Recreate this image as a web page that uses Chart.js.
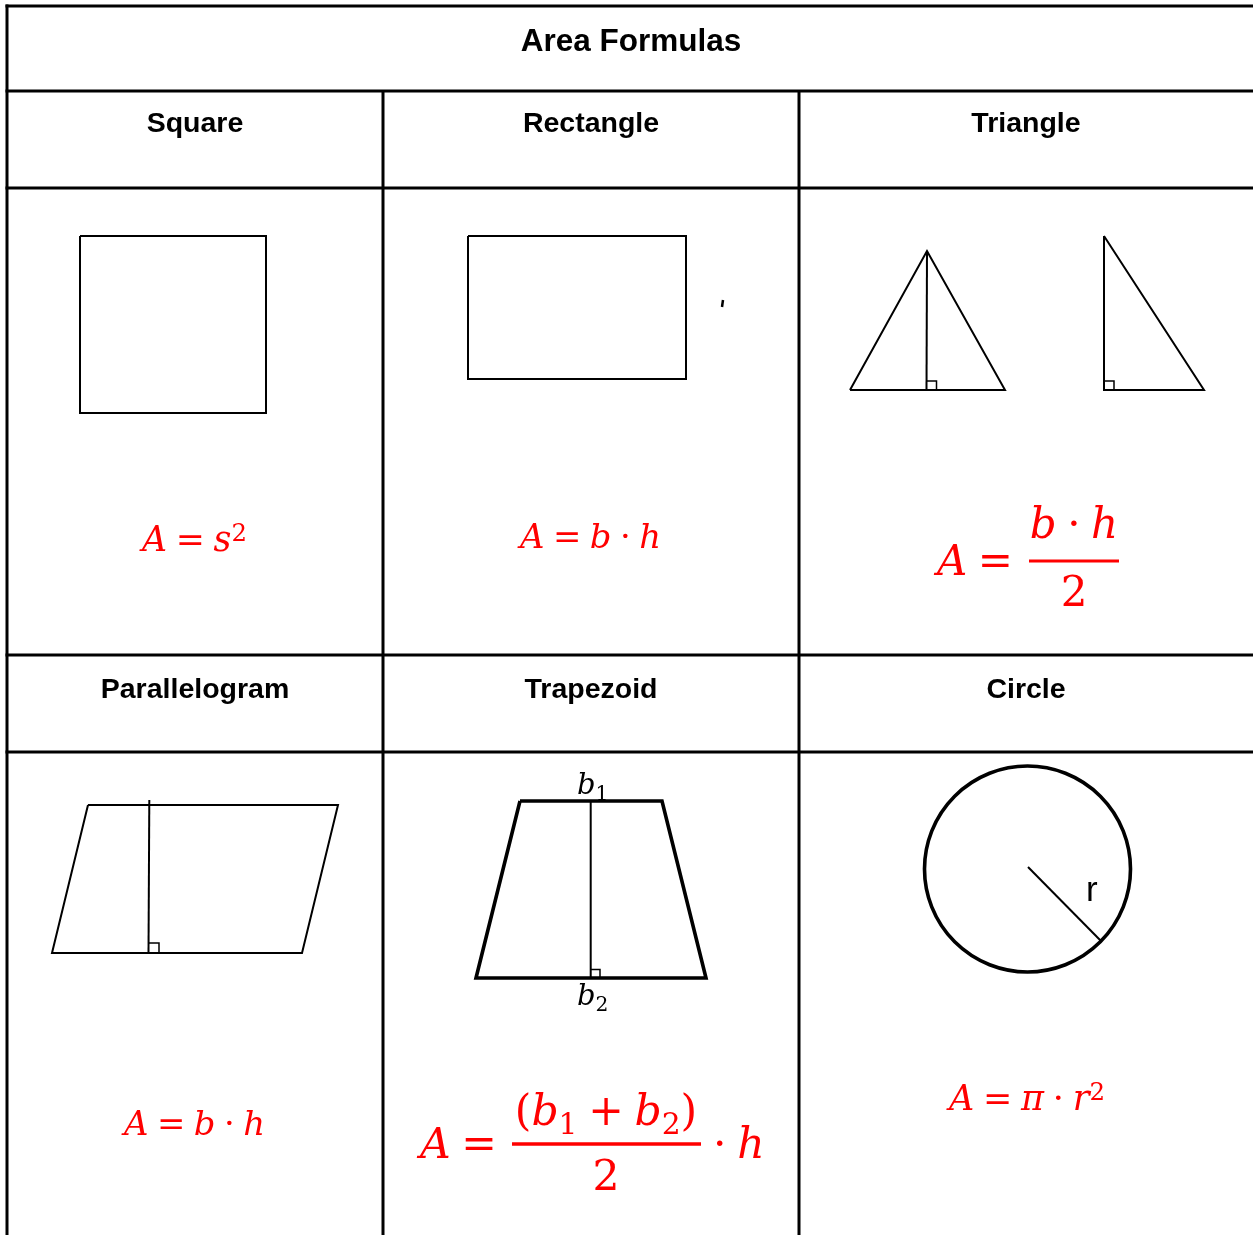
<!DOCTYPE html>
<html>
<head>
<meta charset="utf-8">
<script src="https://cdn.jsdelivr.net/npm/chart.js@4.4.0/dist/chart.umd.min.js"></script>
<style>
  html, body { margin: 0; padding: 0; background: #ffffff; }
  #wrap { width: 1253px; height: 1235px; }
  canvas { display: block; }
</style>
</head>
<body>
<div id="wrap"><canvas id="c" width="1253" height="1235"></canvas></div>
<script>
// ---------- data (diagram geometry & labels) ----------
const titleLabel = 'Area Formulas';
const headerLabels = ['Square', 'Rectangle', 'Triangle', 'Parallelogram', 'Trapezoid', 'Circle'];

const rowEdges = [6, 91, 188, 655, 752];
const colEdges = [7, 383, 799, 1253];

const squareShape        = [[80,236],[266,236],[266,413],[80,413],[80,236]];
const rectangleShape     = [[468,236],[686,236],[686,379],[468,379],[468,236]];
const strayMark          = [[723,300],[722,307]];
const triangleShape      = [[850,390],[927,251],[1005,390],[850,390]];
const triangleHeight     = [[927,251],[926.5,390]];
const triangleMark       = [[926.5,381],[936.5,381],[936.5,390]];
const rightTriangleShape = [[1104,236],[1104,390],[1204,390],[1104,236]];
const rightTriangleMark  = [[1104,381],[1114,381],[1114,390]];
const parallelogramShape = [[88,805],[338,805],[302,953],[52,953],[88,805]];
const parallelogramHeight= [[149.3,800],[148.5,953]];
const parallelogramMark  = [[148.5,943],[159,943],[159,953]];
const trapezoidShape     = [[520,801],[662,801],[706,978],[476,978],[520,801]];
const trapezoidHeight    = [[590.7,801],[590.7,978]];
const trapezoidMark      = [[590.7,969.5],[600,969.5],[600,978]];
const circleCentre       = [[1027.5,869]];
const circleRadiusLine   = [[1028,867],[1101,941]];
const triangleFractionBar  = [[1029,561],[1119,561]];
const trapezoidFractionBar = [[512,1144],[701,1144]];

const TS = '\u2005'; // quarter-em space used in math spacing
const formulaSquare   = [['A','i'],[TS+'='+TS,'o'],['s','i'],['2','sup']];
const formulaRect     = [['A','i'],[TS+'='+TS,'o'],['b','i'],[TS+'\u00B7'+TS,'o'],['h','i']];
const formulaPara     = [['A','i'],[TS+'='+TS,'o'],['b','i'],[TS+'\u00B7'+TS,'o'],['h','i']];
const formulaCircle   = [['A','i'],[TS+'='+TS,'o'],['\u03C0','i'],[TS+'\u00B7'+TS,'o'],['r','i'],['2','sup']];
const formulaTriLhs   = [['A','i'],[TS+'=','o']];
const formulaTriNum   = [['b','i'],[TS+'\u00B7'+TS,'o'],['h','i']];
const formulaTriDen   = [['2','o']];
const formulaTrapLhs  = [['A','i'],[TS+'=','o']];
const formulaTrapNum  = [['(','o'],['b','i'],['1','sub'],[TS+'+'+TS,'o'],['b','i'],['2','sub'],[')','o']];
const formulaTrapDen  = [['2','o']];
const formulaTrapTail = [['\u00B7'+TS,'o'],['h','i']];
const labelB1 = [['b','i'],['1','sub']];
const labelB2 = [['b','i'],['2','sub']];
const labelR = 'r';

// ---------- styles / layout ----------
const BLACK = '#000000';
const RED = '#ff0000';
const MATH_FONT = '"DejaVu Serif"';
const HEAD_FONT = '"Liberation Sans", Arial, sans-serif';

function pts(arr) { return arr.map(p => ({ x: p[0], y: p[1] })); }
function lineDs(arr, width, color, cap) {
  return {
    data: pts(arr), showLine: true, pointRadius: 0, pointHoverRadius: 0,
    borderColor: color || BLACK, borderWidth: width, fill: false, tension: 0,
    borderJoinStyle: 'miter', borderCapStyle: cap || 'butt', clip: false
  };
}

const datasets = [];
const bottom = 1235;
rowEdges.forEach(y => datasets.push(lineDs([[colEdges[0], y], [colEdges[3], y]], 3, BLACK, 'square')));
datasets.push(lineDs([[colEdges[0], rowEdges[0]], [colEdges[0], bottom]], 3, BLACK, 'square'));
datasets.push(lineDs([[colEdges[1], rowEdges[1]], [colEdges[1], bottom]], 3, BLACK, 'butt'));
datasets.push(lineDs([[colEdges[2], rowEdges[1]], [colEdges[2], bottom]], 3, BLACK, 'butt'));
datasets.push(lineDs(squareShape, 2));
datasets.push(lineDs(rectangleShape, 2));
datasets.push(lineDs(strayMark, 2.5));
datasets.push(lineDs(triangleShape, 2));
datasets.push(lineDs(triangleHeight, 2));
datasets.push(lineDs(triangleMark, 1.5));
datasets.push(lineDs(rightTriangleShape, 2));
datasets.push(lineDs(rightTriangleMark, 1.5));
datasets.push(lineDs(parallelogramShape, 2));
datasets.push(lineDs(parallelogramHeight, 2));
datasets.push(lineDs(parallelogramMark, 1.5));
datasets.push(lineDs(trapezoidShape, 3.6));
datasets.push(lineDs(trapezoidHeight, 2));
datasets.push(lineDs(trapezoidMark, 1.5));
datasets.push(lineDs(circleRadiusLine, 2));
datasets.push({
  data: pts(circleCentre), showLine: false, pointRadius: 103, pointHoverRadius: 103,
  pointBorderWidth: 3.6, pointBorderColor: BLACK, pointBackgroundColor: 'rgba(0,0,0,0)', clip: false
});
datasets.push(lineDs(triangleFractionBar, 3, RED));
datasets.push(lineDs(trapezoidFractionBar, 3.5, RED));

const headerBaselines = [132, 132, 132, 698, 698, 698];
function fontFor(kind, size) {
  if (kind === 'i') return 'italic ' + size.toFixed(2) + 'px ' + MATH_FONT;
  if (kind === 'sup' || kind === 'sub') return (size * 0.7).toFixed(2) + 'px ' + MATH_FONT;
  return size.toFixed(2) + 'px ' + MATH_FONT;
}
function measureRuns(ctx, runs, size) {
  let w = 0;
  runs.forEach(r => { ctx.font = fontFor(r[1], size); w += ctx.measureText(r[0]).width; });
  return w;
}
function drawRuns(ctx, runs, x, y, size, align) {
  const total = measureRuns(ctx, runs, size);
  let cx = align === 'center' ? x - total / 2 : x;
  runs.forEach(r => {
    ctx.font = fontFor(r[1], size);
    let dy = 0;
    if (r[1] === 'sup') dy = -0.3 * size;
    if (r[1] === 'sub') dy = 0.2 * size;
    ctx.fillText(r[0], cx, y + dy);
    cx += ctx.measureText(r[0]).width;
  });
}
function fitSize(ctx, runs, width) { return 10 * width / measureRuns(ctx, runs, 10); }

const textPlugin = {
  id: 'textLayer',
  beforeDraw(chart) {
    const ctx = chart.ctx;
    ctx.save(); ctx.fillStyle = '#ffffff'; ctx.fillRect(0, 0, chart.width, chart.height); ctx.restore();
  },
  afterDatasetsDraw(chart) {
    const ctx = chart.ctx;
    const X = v => chart.scales.x.getPixelForValue(v);
    const Y = v => chart.scales.y.getPixelForValue(v);
    ctx.save();
    ctx.textBaseline = 'alphabetic';
    ctx.textAlign = 'center';
    ctx.fillStyle = BLACK;
    ctx.font = 'bold 31.5px ' + HEAD_FONT;
    ctx.fillText(titleLabel, X((colEdges[0] + colEdges[3]) / 2 + 1), Y(51));
    ctx.font = 'bold 28.5px ' + HEAD_FONT;
    headerLabels.forEach((t, i) => {
      const c = i % 3;
      ctx.fillText(t, X((colEdges[c] + colEdges[c + 1]) / 2), Y(headerBaselines[i]));
    });
    ctx.textAlign = 'left';
    ctx.font = '35px ' + HEAD_FONT;
    ctx.fillText(labelR, X(1086), Y(901));
    drawRuns(ctx, labelB1, X(577), Y(794), 29, 'left');
    drawRuns(ctx, labelB2, X(577), Y(1005), 29, 'left');
    ctx.fillStyle = RED;
    const single = [
      [formulaSquare, 142, 247, 551],
      [formulaRect, 520, 661, 548],
      [formulaPara, 124, 265, 1135],
      [formulaCircle, 949, 1105, 1110]
    ];
    single.forEach(f => {
      const s = fitSize(ctx, f[0], f[2] - f[1]);
      drawRuns(ctx, f[0], X(f[1]), Y(f[3]), s, 'left');
    });
    const sTri = fitSize(ctx, formulaTriLhs, 1013 - 937);
    drawRuns(ctx, formulaTriLhs, X(937), Y(575), sTri, 'left');
    drawRuns(ctx, formulaTriNum, X(1074), Y(538), sTri, 'center');
    drawRuns(ctx, formulaTriDen, X(1074), Y(606), sTri, 'center');
    const sTrap = fitSize(ctx, formulaTrapLhs, 497 - 420);
    drawRuns(ctx, formulaTrapLhs, X(420), Y(1158), sTrap, 'left');
    drawRuns(ctx, formulaTrapNum, X(606), Y(1125), sTrap, 'center');
    drawRuns(ctx, formulaTrapDen, X(606), Y(1190), sTrap, 'center');
    drawRuns(ctx, formulaTrapTail, X(713), Y(1158), sTrap, 'left');
    ctx.restore();
  }
};

new Chart(document.getElementById('c'), {
  type: 'scatter',
  data: { datasets },
  options: {
    responsive: false,
    maintainAspectRatio: false,
    devicePixelRatio: 1,
    animation: false,
    events: [],
    layout: { padding: 0, autoPadding: false },
    plugins: { legend: { display: false }, tooltip: { enabled: false }, title: { display: false } },
    scales: {
      x: { type: 'linear', min: 0, max: 1253, display: false },
      y: { type: 'linear', min: 0, max: 1235, reverse: true, display: false }
    }
  },
  plugins: [textPlugin]
});
</script>
</body>
</html>
